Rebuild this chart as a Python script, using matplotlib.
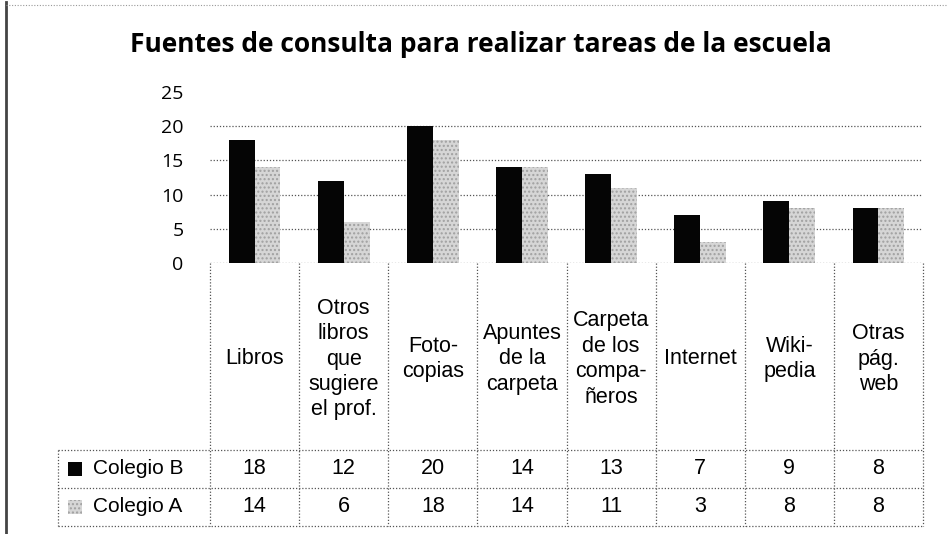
import numpy as np
import matplotlib
matplotlib.use("Agg")
import matplotlib.pyplot as plt
from matplotlib.transforms import blended_transform_factory
from matplotlib.lines import Line2D
from matplotlib.patches import Rectangle

# ---- data ----
title = "Fuentes de consulta para realizar tareas de la escuela"
categories = ["Libros", "Otros\nlibros\nque\nsugiere\nel prof.", "Foto-\ncopias",
              "Apuntes\nde la\ncarpeta", "Carpeta\nde los\ncompa-\nñeros", "Internet",
              "Wiki-\npedia", "Otras\npág.\nweb"]
series_names = ["Colegio B", "Colegio A"]
colegio_b = [18, 12, 20, 14, 13, 7, 9, 8]
colegio_a = [14, 6, 18, 14, 11, 3, 8, 8]
yticks = [0, 5, 10, 15, 20, 25]

W, H = 947, 534
fig = plt.figure(figsize=(W / 100, H / 100), dpi=100)
fig.patch.set_facecolor("white")

def fx(x):
    return x / W

def fy(y):
    return 1 - y / H

ax_left, ax_right, ax_bottom, ax_top = 210, 923, 263, 92
ax = fig.add_axes([fx(ax_left), fy(ax_bottom), fx(ax_right - ax_left), (ax_bottom - ax_top) / H])
ax.set_xlim(-0.5, len(categories) - 0.5)
ax.set_ylim(0, 25)
for s in ax.spines.values():
    s.set_visible(False)
ax.set_xticks([])
ax.set_yticks(yticks)
ax.set_yticklabels([str(t) for t in yticks], fontfamily="Open Sans", fontsize=14)
ax.tick_params(axis="y", length=0, pad=19)

grid_col = "#555555"
for t in yticks[:-1]:
    ax.axhline(t, color=grid_col, lw=0.9, ls=(0, (1, 1.5)), zorder=1)

x = np.arange(len(categories))
w = 0.29
b_col = "#050505"
a_col = "#d6d6d6"
ax.bar(x - w / 2, colegio_b, width=w, color=b_col, zorder=3)
ax.bar(x + w / 2, colegio_a, width=w, color=a_col, edgecolor="#a0a0a0",
       hatch="....", linewidth=0, zorder=3)

# ---- data table below ----
tr = blended_transform_factory(ax.transData, fig.transFigure)
row_top, row_mid, row_bot = 450, 488, 526
tbl_left = 58
lkw = dict(color=grid_col, lw=0.9, ls=(0, (1, 1.5)))

for b in np.arange(len(categories) + 1) - 0.5:
    fig.add_artist(Line2D([b, b], [fy(ax_bottom), fy(row_bot)], transform=tr, **lkw))
for yy in (row_top, row_mid, row_bot):
    fig.add_artist(Line2D([fx(tbl_left), fx(ax_right)], [fy(yy), fy(yy)],
                          transform=fig.transFigure, **lkw))
fig.add_artist(Line2D([fx(tbl_left), fx(tbl_left)], [fy(row_top), fy(row_bot)],
                      transform=fig.transFigure, **lkw))

txt_font = "Liberation Sans"
fs = 15.5
for i, c in enumerate(categories):
    fig.text(i, fy(359), c, transform=tr, ha="center", va="center",
             fontfamily=txt_font, fontsize=fs, linespacing=1.28, multialignment="center")

rows = [(series_names[0], colegio_b, b_col), (series_names[1], colegio_a, a_col)]
for r, (name, vals, col) in enumerate(rows):
    yc = (row_top + row_mid) / 2 if r == 0 else (row_mid + row_bot) / 2
    for i, v in enumerate(vals):
        fig.text(i, fy(yc), str(v), transform=tr, ha="center", va="center",
                 fontfamily=txt_font, fontsize=fs)
    fig.text(fx(93), fy(yc), name, ha="left", va="center", fontfamily=txt_font, fontsize=15)
    if r == 0:
        fig.add_artist(Rectangle((fx(68), fy(yc + 7)), fx(14), 14 / H, transform=fig.transFigure,
                                 facecolor=col, edgecolor="none"))
    else:
        fig.add_artist(Rectangle((fx(68), fy(yc + 7)), fx(14), 14 / H, transform=fig.transFigure,
                                 facecolor=col, edgecolor="#a0a0a0", hatch="....", linewidth=0))

# title
fig.text(fx(481), fy(45), title, ha="center", va="center", fontfamily="Open Sans",
         fontweight="bold", fontsize=19)

# scanned frame
fig.add_artist(Line2D([fx(6), fx(6)], [fy(2), fy(534)], transform=fig.transFigure,
                      color="#444444", lw=2.0))
fig.add_artist(Line2D([fx(6), fx(947)], [fy(5), fy(5)], transform=fig.transFigure,
                      color="#999999", lw=0.8, ls=(0, (1, 1.5))))

fig.savefig("out.png", dpi=100, facecolor="white")
